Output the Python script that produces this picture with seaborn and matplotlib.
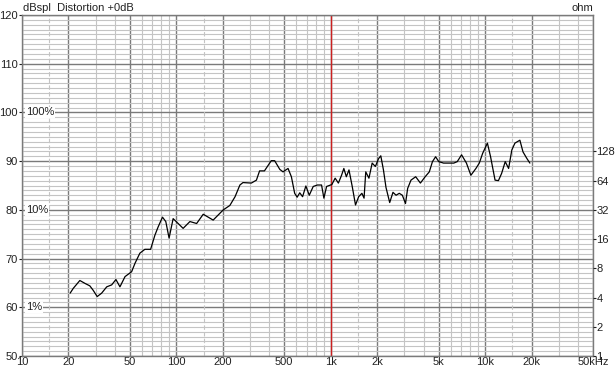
import matplotlib
matplotlib.use("Agg")
import matplotlib.pyplot as plt
import seaborn as sns
import numpy as np
import pandas as pd

# ---- data ----
freq_hz = [20.5, 21.5, 23.7, 25.6, 27.5, 28.9, 30.7, 32.8, 35.4, 38.1, 40.6, 43.1, 46.5,
           51.3, 53.9, 58.0, 62.5, 68.1, 72.6, 76.2, 81.3, 85.4, 89.7, 95.3, 102.7, 110.6,
           122.4, 135.3, 149.3, 173.1, 201.4, 222, 240, 258, 270, 306, 330, 346, 372, 412,
           433, 468, 491, 529, 556, 584, 606, 630, 657, 690, 726, 770, 819, 872, 903, 940,
           1017, 1068, 1121, 1175, 1216, 1262, 1313, 1378, 1447, 1517, 1592, 1644, 1686,
           1768, 1855, 1946, 2040, 2110, 2195, 2280, 2410, 2530, 2650, 2780, 2910, 3050,
           3150, 3310, 3550, 3810, 4090, 4350, 4560, 4780, 5010, 5380, 5810, 6270, 6600,
           7040, 7570, 8090, 8720, 9170, 9640, 10350, 10850, 11600, 12200, 12800, 13500,
           14200, 14900, 15600, 16800, 17600, 18600, 19500]
spl_db = [62.9, 63.9, 65.5, 64.9, 64.4, 63.5, 62.2, 62.9, 64.2, 64.6, 65.7, 64.2, 66.3,
          67.3, 69.0, 71.1, 71.9, 71.9, 74.8, 76.5, 78.5, 77.6, 74.2, 78.2, 77.2, 76.2,
          77.6, 77.2, 79.1, 77.9, 80.0, 80.9, 82.7, 85.1, 85.6, 85.5, 86.1, 88.0, 88.0, 90.1,
          90.1, 88.3, 87.8, 88.5, 86.8, 83.4, 82.6, 83.5, 82.7, 84.9, 83.0, 84.8, 85.1, 85.1,
          82.4, 84.8, 85.2, 86.5, 85.5, 87.1, 88.5, 86.8, 88.2, 84.8, 81.0, 82.7, 83.4, 82.4,
          87.8, 86.5, 89.6, 88.9, 90.5, 91.1, 88.2, 84.6, 81.5, 83.6, 83.0, 83.4, 83.0, 81.3,
          84.4, 86.1, 86.8, 85.5, 86.8, 87.8, 89.9, 90.9, 89.9, 89.6, 89.6, 89.6, 89.9,
          91.3, 89.6, 87.1, 88.5, 89.6, 91.6, 93.7, 90.9, 86.1, 86.0, 87.5, 89.9,
          88.5, 92.3, 93.7, 94.3, 91.9, 90.6, 89.6]

x_major = [10, 20, 50, 100, 200, 500, 1000, 2000, 5000, 10000, 20000, 50000]
x_labels = ["10", "20", "50", "100", "200", "500", "1k", "2k", "5k", "10k", "20k", "50kHz"]
y_major = [50, 60, 70, 80, 90, 100, 110, 120]
dist_levels = [100, 80, 60]
dist_labels = ["100%", "10%", "1%"]
ohm_values = [1, 2, 4, 8, 16, 32, 64, 128]

df = pd.DataFrame({"freq": freq_hz, "spl": spl_db})

sns.set_style("white")
plt.rcParams["font.family"] = ["Liberation Sans", "DejaVu Sans"]

fig = plt.figure(figsize=(6.15, 3.72), dpi=100)
ax = fig.add_axes([22 / 615, 1 - 356 / 372, (593 - 22) / 615, (356 - 15) / 372])

dark = "#7a7a7a"
light = "#c4c4c4"
fs = 8

ax.set_xscale("log")

sns.lineplot(data=df, x="freq", y="spl", ax=ax, color="black", linewidth=0.9, zorder=5)
ax.set_xlabel("")
ax.set_ylabel("")

# grid lines
minor_x = [m * d for d in [10, 100, 1000, 10000] for m in [3, 4, 6, 7, 8, 9] if m * d < 50000]
ax.set_xticks(minor_x, minor=True)
ax.set_yticks(np.arange(50, 121, 1), minor=True)
ax.set_xticks(x_major)
ax.set_xticklabels(x_labels)
ax.set_yticks(y_major)
ax.grid(which="minor", color=light, linewidth=0.8)
ax.grid(which="major", color=dark, linewidth=1.0)
for f in [15, 150, 1500, 15000]:
    ax.axvline(f, color=light, linewidth=0.8, linestyle=(0, (4, 2)), zorder=1)
ax.axvline(1000, color="#cc2020", linewidth=1.0, zorder=2)
ax.set_axisbelow(True)
ax.set_xlim(10, 50000)
ax.set_ylim(50, 120)

ax.tick_params(axis="both", which="minor", length=0)
ax.tick_params(axis="both", which="major", length=2, labelsize=fs, pad=1, colors="#222222")
ax.tick_params(axis="x", length=0, pad=1)
for s in ax.spines.values():
    s.set_color(dark)
    s.set_linewidth(1.0)

for lvl, lab in zip(dist_levels, dist_labels):
    ax.text(10.6, lvl, lab, fontsize=fs, va="center", ha="left", color="#222222",
            bbox=dict(facecolor="white", edgecolor="none", pad=0.5), zorder=6)

# right impedance axis: 6 dB per doubling, 1 ohm at 50 dB
ax2 = ax.twinx()
ax2.set_ylim(50, 120)
ax2.set_yticks([50 + 6 * np.log2(v) for v in ohm_values])
ax2.set_yticklabels([str(v) for v in ohm_values])
ax2.set_ylim(50, 120)
ax2.tick_params(axis="y", length=2, labelsize=fs, pad=0.5, colors="#222222")
for s in ax2.spines.values():
    s.set_visible(False)
ax2.grid(False)
ax.set_xlim(10, 50000)

fig.text(23 / 615, 1 - 8 / 372, "dBspl  Distortion +0dB", fontsize=fs, va="center", ha="left",
         color="#222222")
fig.text(571 / 615, 1 - 8 / 372, "ohm", fontsize=fs, va="center", ha="left", color="#222222")

fig.savefig("out.png", dpi=100, facecolor="white")
